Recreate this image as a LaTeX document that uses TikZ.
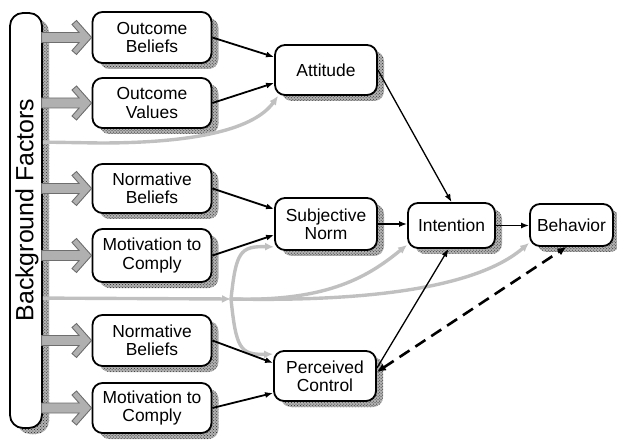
\documentclass[tikz,border=0pt]{standalone}
\usepackage{fontspec}
\setmainfont{Liberation Sans}
\usetikzlibrary{arrows.meta,shadows,patterns,calc}
\definecolor{lgray}{RGB}{192,192,192}
\definecolor{agray}{RGB}{176,176,176}
\definecolor{adark}{RGB}{110,110,110}
\tikzset{
  shad/.style={general shadow={shadow xshift=7bp,shadow yshift=-6bp,fill=gray!60},
               general shadow={shadow xshift=7bp,shadow yshift=-6bp,pattern=crosshatch dots,pattern color=black!85}},
  box/.style={draw, line width=1.8bp, rounded corners=10bp, fill=white, align=center,
              font=\fontsize{17.5}{18.5}\selectfont, inner sep=0pt, shad},
  bline/.style={line width=1.8bp, -{Latex[length=8bp,width=6bp]}},
  tline/.style={line width=1.3bp, -{Latex[length=8bp,width=6bp]}},
  dline/.style={line width=2.6bp, dash pattern=on 12bp off 7bp,
                {Latex[length=9bp,width=8bp]}-{Latex[length=9bp,width=8bp]}},
  gline/.style={draw=lgray, line width=3.4bp, -{Latex[length=9bp,width=8bp]}},
  barrow/.style={fill=agray, draw=adark, line width=0.9bp, line join=miter}
}
\begin{document}
\begin{tikzpicture}[x=1bp,y=-1bp]
\useasboundingbox (0,0) rectangle (617,440);
% background bar
\node[box, minimum width=32bp, minimum height=415bp, rounded corners=13bp] (bar) at (26,220.5) {};
\node[rotate=90, font=\fontsize{25}{25}\selectfont] (bft) at (27,210) {Background Factors};
% left boxes
\node[box, minimum width=119bp, minimum height=51bp] (ob)  at (152,37.5) {Outcome\\Beliefs};
\node[box, minimum width=119bp, minimum height=50bp] (ov)  at (152,103)  {Outcome\\Values};
\node[box, minimum width=119bp, minimum height=49bp] (nb1) at (152,188.5) {Normative\\Beliefs};
\node[box, minimum width=119bp, minimum height=53bp] (mc1) at (152,255.5) {Motivation to\\Comply};
\node[box, minimum width=119bp, minimum height=51bp] (nb2) at (152,340.5) {Normative\\Beliefs};
\node[box, minimum width=119bp, minimum height=50bp] (mc2) at (152,408)  {Motivation to\\Comply};
% middle and right nodes
\node[box, minimum width=102bp, minimum height=50bp] (att) at (326,70)  {Attitude};
\node[box, minimum width=102bp, minimum height=52bp] (sn)  at (326,224) {Subjective\\Norm};
\node[box, minimum width=102bp, minimum height=50bp] (pc)  at (325,376) {Perceived\\Control};
\node[box, minimum width=87bp, minimum height=45bp] (int) at (451.5,225.5) {Intention};
\node[box, minimum width=83bp, minimum height=42bp] (beh) at (571.5,225) {Behavior};
% block arrows from the bar
\foreach \n in {ob,ov,nb1,mc1,nb2,mc2}{
  \begin{scope}[shift={(\n.west)}]
    \filldraw[barrow] (-50,-5) -- (-12.5,-5) -- (-19.6,-13) -- (-15.1,-17) -- (0,0)
      -- (-15.1,17) -- (-19.6,13) -- (-12.5,5) -- (-50,5) -- cycle;
  \end{scope}
}
% gray connectors
\coordinate (ga) at ($(bar.north east)+(0,130)$);
\coordinate (gb) at ($(bar.north east)+(0,286)$);
\coordinate (gj) at (231,299);
\draw[gline] (ga) -- (100,143) .. controls (200,143) and (255,128) .. ([xshift=4bp]att.south west);
\draw[gline] (gb) -- (gj);
\draw[gline] (gj) .. controls (236,252) and (240,246) .. ([yshift=4bp]sn.south west);
\draw[gline] (gj) .. controls (236,348) and (240,355) .. ([yshift=-4bp]pc.north west);
\draw[gline] (gj) .. controls (330,302) and (370,275) .. ([yshift=4bp]int.south west);
\draw[gline] (gj) .. controls (380,302) and (480,285) .. ([yshift=4bp]beh.south west);
% black connectors
\draw[bline] (ob.east)  -- ([yshift=13bp]att.west);
\draw[bline] (ov.east)  -- ([yshift=-13bp]att.west);
\draw[bline] (nb1.east) -- ([yshift=15bp]sn.west);
\draw[bline] (mc1.east) -- ([yshift=-11bp]sn.west);
\draw[bline] (nb2.east) -- ([yshift=13bp]pc.west);
\draw[bline] (mc2.east) -- ([yshift=-17bp]pc.west);
\draw[tline] (att.east) -- (int.north);
\draw[bline] (sn.east) -- (sn.east -| int.west);
\draw[bline] (int.east) -- (int.east -| beh.west);
\draw[tline] ([yshift=8bp]pc.east) -- ([xshift=-3bp]int.south);
\draw[dline] ([yshift=4bp]pc.east) -- ([xshift=-5bp]beh.south);
\end{tikzpicture}
\end{document}
